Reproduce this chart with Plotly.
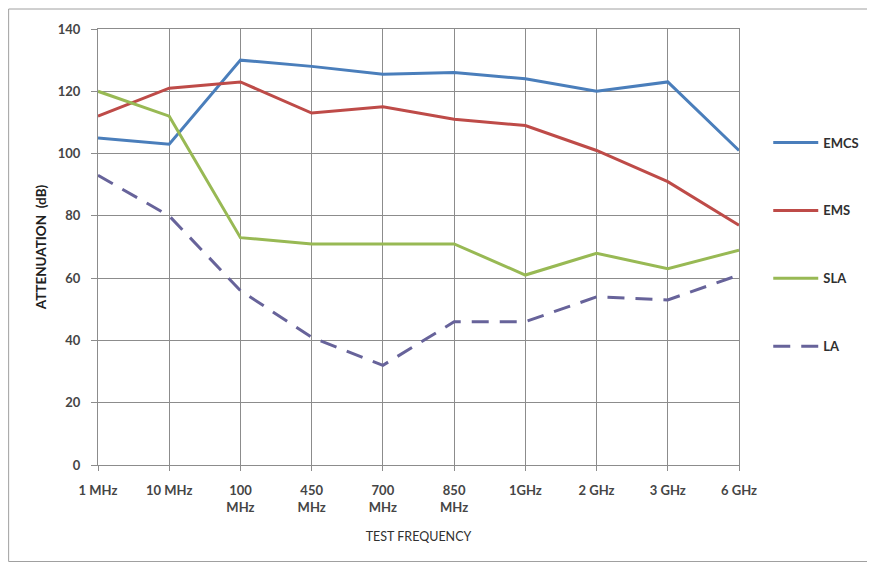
import plotly.graph_objects as go

categories = ["1 MHz", "10 MHz", "100<br>MHz", "450<br>MHz", "700<br>MHz", "850<br>MHz",
              "1GHz", "2 GHz", "3 GHz", "6 GHz"]
emcs = [105, 103, 130, 128, 125.5, 126, 124, 120, 123, 101]
ems = [112, 121, 123, 113, 115, 111, 109, 101, 91, 77]
sla = [120, 112, 73, 71, 71, 71, 61, 68, 63, 69]
la = [93, 80, 56, 41, 32, 46, 46, 54, 53, 61]

series = [
    ("EMCS", emcs, "#4A7EBB", "solid"),
    ("EMS", ems, "#BE4B48", "solid"),
    ("SLA", sla, "#98B954", "solid"),
    ("LA", la, "#67639A", "17px,11px"),
]

fig = go.Figure()
for i, (name, vals, color, dash) in enumerate(series):
    fig.add_trace(go.Scatter(
        x=categories, y=vals, name=name, mode="lines",
        line=dict(color=color, width=3, dash=dash),
        legendgroup=f"g{i}",
    ))

# page body has an 8px offset; figure is sized to fill the rest of the window
W, H = 867, 555
L, T, R, B = 90, 21, 135, 98
pw, ph = W - L - R, H - T - B

font_family = "Lato, Open Sans, Liberation Sans, Arial"
fig.update_layout(
    width=W, height=H,
    margin=dict(l=L, r=R, t=T, b=B),
    paper_bgcolor="white", plot_bgcolor="white",
    font=dict(family=font_family, size=13, color="#404040"),
    showlegend=True,
    legend=dict(
        x=1.044, y=0.774, xanchor="left", yanchor="top",
        tracegroupgap=48, itemwidth=45,
        font=dict(size=13, color="#303030", family=font_family, weight="bold"),
        bgcolor="rgba(0,0,0,0)",
    ),
    xaxis=dict(
        type="category", range=[0, 9],
        showgrid=True, gridcolor="#8C8C8C", gridwidth=1,
        showline=True, linecolor="#8C8C8C", linewidth=1, mirror=True,
        ticks="outside", ticklen=5, tickcolor="#8C8C8C",
        ticklabelstandoff=8,
        tickfont=dict(size=13, color="#454545", weight="bold"),
        title=dict(text="TEST FREQUENCY", font=dict(size=12.5, color="#303030"), standoff=18),
        zeroline=False,
    ),
    yaxis=dict(
        range=[0, 140], dtick=20,
        showgrid=True, gridcolor="#8C8C8C", gridwidth=1,
        showline=True, linecolor="#8C8C8C", linewidth=1, mirror=True,
        ticks="outside", ticklen=6, tickcolor="#8C8C8C",
        ticklabelstandoff=8,
        tickfont=dict(size=13, color="#454545", weight="bold"),
        title=dict(text="<b>ATTENUATION  (dB)</b>", font=dict(size=13.5, color="#202020"), standoff=8),
        zeroline=False,
    ),
    shapes=[dict(
        type="rect", xref="paper", yref="paper",
        x0=(0.5 - L) / pw, x1=(865 - L) / pw,
        y0=(T + ph - 553.5) / ph, y1=(T + ph - 1) / ph,
        line=dict(color="#A0A0A0", width=1), fillcolor="rgba(0,0,0,0)", layer="below",
    )],
)

fig.write_html("out.html")
